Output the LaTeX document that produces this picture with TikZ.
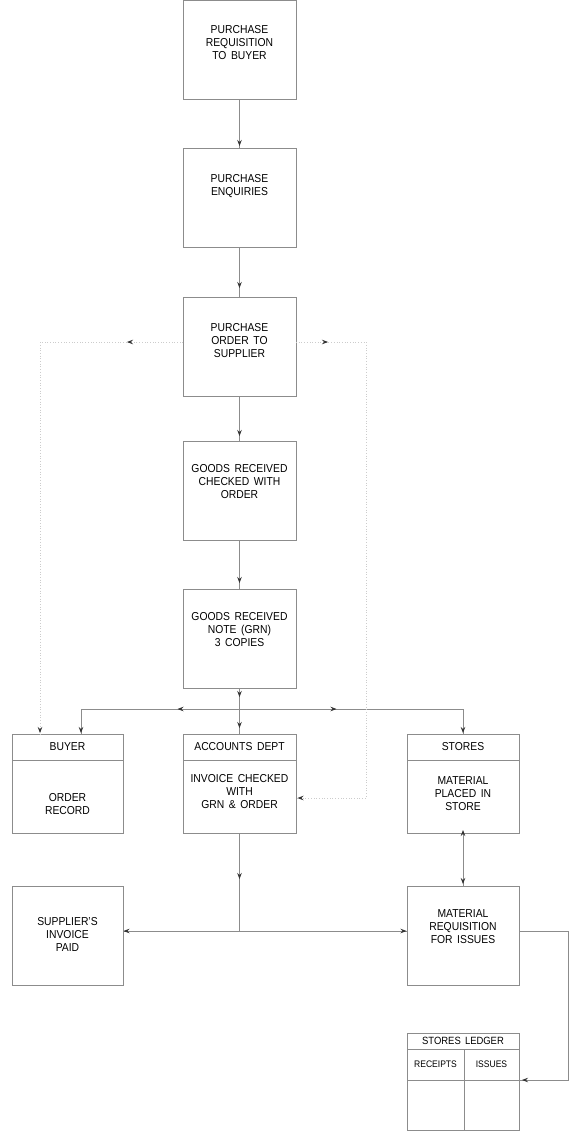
\documentclass[tikz,border=0pt]{standalone}
\usepackage{fontspec}
\setmainfont{Liberation Sans}[FakeStretch=0.9,WordSpace=1.6]
\usetikzlibrary{arrows.meta,positioning,decorations.markings}
\definecolor{linegray}{gray}{0.55}
\definecolor{dotgray}{gray}{0.8}

\begin{document}
\begin{tikzpicture}[x=1pt,y=-1pt]
\tikzset{>={Stealth[length=6pt,width=4.5pt,inset=2.2pt]}}
\tikzset{box/.style={draw=linegray,line width=0.7pt,inner sep=0pt,outer sep=0pt,
  minimum width=113pt,minimum height=99pt,align=center,font=\fontsize{11.5}{13}\selectfont}}
\tikzset{head/.style={box,minimum height=26pt}}
\tikzset{body/.style={box,minimum height=73pt}}
\tikzset{cell/.style={box,font=\fontsize{9.5}{11}\selectfont,minimum width=57pt,minimum height=31pt}}
\tikzset{txt/.style={align=center,inner sep=0pt,font=\fontsize{11.5}{13}\selectfont}}
\tikzset{line/.style={draw=linegray,line width=0.7pt}}
\tikzset{dotline/.style={draw=dotgray,line width=0.7pt,dotted}}
\tikzset{arrowat/.style={postaction={decorate,decoration={markings,
  mark=at position #1 with {\arrow[black!80]{>}}}}}}
\tikzset{arrowback/.style={postaction={decorate,decoration={markings,
  mark=at position #1 with {\arrow[black!80]{<}}}}}}

\useasboundingbox (0,0) rectangle (570,1132);

% main column
\node[box] (req) at (239.5,49.5) {};
\node[box,below=49pt of req] (enq) {};
\node[box,below=50pt of enq] (ord) {};
\node[box,below=45pt of ord] (chk) {};
\node[box,below=49pt of chk] (grn) {};
\node[txt] (reqtext) at ([yshift=6.5pt]req.center) {PURCHASE\\REQUISITION\\TO BUYER};
\node[txt] (enqtext) at ([yshift=11.5pt]enq.center) {PURCHASE\\ENQUIRIES};
\node[txt] (ordtext) at ([yshift=5.5pt]ord.center) {PURCHASE\\ORDER TO\\SUPPLIER};
\node[txt] (chktext) at ([yshift=9pt]chk.center) {GOODS RECEIVED\\CHECKED WITH\\ORDER};
\node[txt] (grntext) at ([yshift=8.5pt]grn.center) {GOODS RECEIVED\\NOTE (GRN)\\3 COPIES};

% departments
\node[head,minimum width=111pt] (buyerhead) at (67.5,747) {BUYER};
\node[body,minimum width=111pt,below=0pt of buyerhead] (buyerbody) {};
\node[txt] (buyertext) at ([yshift=-7.5pt]buyerbody.center) {ORDER\\RECORD};
\node[head] (acchead) at (239.5,747) {ACCOUNTS DEPT};
\node[body,below=0pt of acchead] (accbody) {};
\node[txt] (acctext) at ([yshift=4.5pt]accbody.center) {INVOICE CHECKED\\WITH\\GRN \& ORDER};
\node[head,minimum width=112pt] (storeshead) at (463,747) {STORES};
\node[body,minimum width=112pt,below=0pt of storeshead] (storesbody) {};
\node[txt] (storestext) at ([yshift=2.5pt]storesbody.center) {MATERIAL\\PLACED IN\\STORE};

\node[box,minimum width=111pt] (supp) at (67.5,935.5) {};
\node[txt] (supptext) at ([yshift=1.5pt]supp.center) {SUPPLIER'S\\INVOICE\\PAID};
\node[box,minimum width=112pt] (matreq) at (463,935.5) {};
\node[txt] (matreqtext) at ([yshift=8.5pt]matreq.center) {MATERIAL\\REQUISITION\\FOR ISSUES};

% ledger
\node[head,minimum width=112pt,minimum height=16pt,font=\fontsize{10.5}{12}\selectfont] (ledger) at (463,1041) {STORES LEDGER};
\node[cell,below right=0pt of ledger.south west] (rechead) {RECEIPTS};
\node[cell,minimum width=55pt,right=0pt of rechead] (isshead) {ISSUES};
\node[cell,minimum height=50pt,below=0pt of rechead] (recbody) {};
\node[cell,minimum width=55pt,minimum height=50pt,below=0pt of isshead] (issbody) {};

% connectors
\draw[line,arrowat=-2pt] (req) -- (enq);
\draw[line,arrowat=-9pt] (enq) -- (ord);
\draw[line,arrowat=-5pt] (ord) -- (chk);
\draw[line,arrowat=-6pt] (chk) -- (grn);

\coordinate (split) at (239.5,709);
\draw[line,arrowat=9pt,arrowat=-6pt] (grn) -- (acchead);
\draw[line,arrowat=62pt,arrowat=-1pt] (split) -| ([xshift=13.5pt]buyerhead.north);
\draw[line,arrowat=97pt,arrowat=-1pt] (split) -| (storeshead.north);

\draw[dotline,arrowat=56pt,arrowat=-1pt] ([yshift=4.5pt]ord.west) -| ([xshift=-27.5pt]buyerhead.north);
\draw[dotline,arrowat=32pt,arrowat=-1.5pt] ([yshift=4.5pt]ord.east) -- ++(70,0) |- ([yshift=-1.5pt]accbody.east);

\draw[line,arrowback=3pt,arrowat=-2pt] (storesbody) -- (matreq);

\coordinate (junc) at (239.5,931);
\draw[line,arrowat=46pt] (accbody) -- (junc);
\draw[line,arrowat=-0.5pt] (junc) -- (supp.east |- junc);
\draw[line,arrowat=-0.5pt] (junc) -- (matreq.west |- junc);
\draw[line,arrowat=-3pt] (matreq.east |- junc) -- ++(49,0) |- (isshead.south east);
\end{tikzpicture}
\end{document}
